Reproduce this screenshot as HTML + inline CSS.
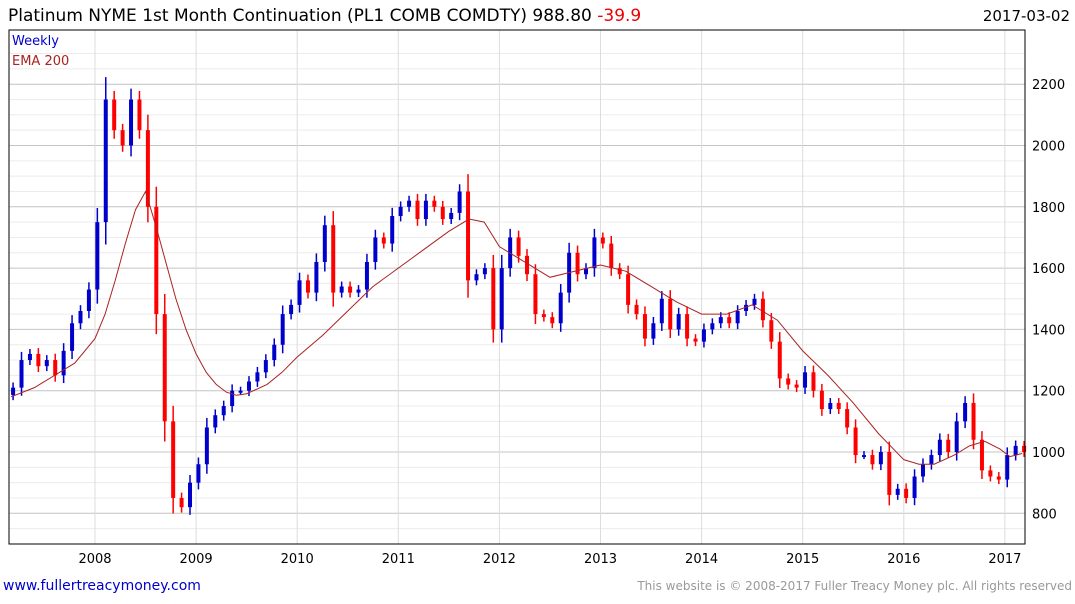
<!DOCTYPE html>
<html><head><meta charset="utf-8"><style>
body{margin:0;background:#fff;font-family:"DejaVu Sans","Liberation Sans",sans-serif}
svg text{font-family:"DejaVu Sans","Liberation Sans",sans-serif}
</style></head><body>
<svg id="c" width="1075" height="600" xmlns="http://www.w3.org/2000/svg">
<text x="8" y="21" font-size="17" fill="#000">Platinum NYME 1st Month Continuation (PL1 COMB COMDTY) 988.80 <tspan fill="#e00">-39.9</tspan></text>
<text x="1070" y="21" font-size="15" text-anchor="end" fill="#000">2017-03-02</text>
<g id="grid"></g>
<g id="bars"></g>
<g id="ema"></g>
<rect x="9" y="30" width="1016" height="514" fill="none" stroke="#000" stroke-width="1"/>
<text x="12" y="45" font-size="13" fill="#00c">Weekly</text>
<text x="12" y="65" font-size="13" fill="#a22">EMA 200</text>
<text x="3" y="590" font-size="14" fill="#00c">www.fullertreacymoney.com</text>
<text x="1072" y="590" font-size="12" text-anchor="end" fill="#999">This website is © 2008-2017 Fuller Treacy Money plc. All rights reserved</text>
</svg>
<script>
const yearTicks=[2008,2009,2010,2011,2012,2013,2014,2015,2016,2017];
const priceTicks=[800,1000,1200,1400,1600,1800,2000,2200];
const startYear=2007.17;
const closes=[1210,1300,1320,1280,1300,1250,1330,1420,1460,1530,
1750,2150,2050,2000,2150,2050,1800,1450,1100,850,820,900,
960,1080,1120,1150,1200,1200,1230,1260,1300,1350,1450,1480,
1560,1520,1620,1740,1520,1540,1520,1530,1620,1700,1680,1770,
1800,1820,1760,1820,1800,1760,1780,1850,1560,1580,1600,1400,
1600,1700,1640,1580,1450,1440,1420,1520,1650,1580,1600,1700,
1680,1600,1580,1480,1450,1370,1420,1500,1400,1450,1370,1360,
1400,1420,1440,1420,1460,1480,1500,1430,1360,1240,1220,1210,
1260,1200,1140,1160,1140,1080,990,990,960,1000,860,880,
850,920,960,990,1040,1000,1100,1160,1040,940,920,910,
990,1020,1000];
const emaTimes=[2007.17,2007.4,2007.6,2007.8,2008.0,2008.1,2008.2,2008.3,2008.4,2008.5,2008.6,2008.7,2008.8,2008.9,2009.0,2009.1,2009.2,2009.3,2009.4,2009.5,2009.7,2009.85,2010.0,2010.25,2010.5,2010.75,2011.0,2011.25,2011.5,2011.7,2011.85,2012.0,2012.25,2012.5,2012.75,2013.0,2013.25,2013.5,2013.75,2014.0,2014.25,2014.5,2014.75,2015.0,2015.25,2015.5,2015.75,2016.0,2016.15,2016.3,2016.5,2016.65,2016.8,2016.95,2017.05,2017.17];
const emaValues=[1180,1210,1250,1290,1370,1450,1560,1680,1790,1850,1740,1620,1500,1400,1320,1260,1220,1195,1185,1190,1220,1260,1310,1380,1460,1540,1600,1660,1720,1760,1750,1670,1620,1570,1590,1610,1590,1540,1490,1450,1450,1480,1430,1330,1250,1160,1060,975,960,960,990,1020,1035,1010,985,995];
const NS='http://www.w3.org/2000/svg';
const xs=t=>95+(t-2008)*101.1;
const ys=v=>452-(v-1000)*61.3/200;
function mk(tag,attrs,parent){const e=document.createElementNS(NS,tag);for(const k in attrs)e.setAttribute(k,attrs[k]);document.getElementById(parent).appendChild(e);return e;}
for(let v=700;v<=2300;v+=50){
  if(v%200===0)continue;
  const l=mk('line',{x1:9,x2:1025,y1:ys(v),y2:ys(v),stroke:'#ececec'},'grid');
  
  
}
priceTicks.forEach(v=>{
  const l=mk('line',{x1:9,x2:1025,y1:ys(v),y2:ys(v),stroke:'#c4c4c4'},'grid');
  
  
  const t=mk('text',{x:1032,y:ys(v)+5,'font-size':13,fill:'#000'},'grid');
  t.textContent=v;
  
  
});
yearTicks.forEach(y=>{
  const l=mk('line',{x1:xs(y),x2:xs(y),y1:30,y2:544,stroke:'#dcdcdc'},'grid');
  
  
  const t=mk('text',{x:xs(y),y:563,'font-size':13,'text-anchor':'middle',fill:'#000'},'grid');
  t.textContent=y;
  
  
});
let prev=closes[0]*0.98;
closes.forEach((c,i)=>{
  const t=startYear+i/12;
  const up=c>=prev;
  const col=up?'#00c':'#f00';
  const top=ys(Math.max(prev,c)),bot=ys(Math.min(prev,c));
  const ext=4+(bot-top)*0.15;
  const w=mk('line',{x1:xs(t)+2,x2:xs(t)+2,y1:top-ext,y2:bot+ext,stroke:col,'stroke-width':1.5},'bars');
  
  
  const r=mk('rect',{x:xs(t),y:top,width:4,height:Math.max(2,bot-top),fill:col},'bars');
  
  
  prev=c;
});
const p=mk('polyline',{points:emaTimes.map((t,i)=>xs(t)+','+ys(emaValues[i])).join(' '),fill:'none',stroke:'#a22','stroke-width':1},'ema');


</script>
</body></html>
